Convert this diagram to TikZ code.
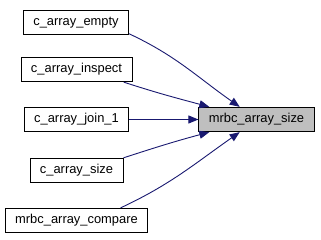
\documentclass[tikz,border=0pt]{standalone}
\usepackage{fontspec}
\setmainfont{Liberation Sans}
\usetikzlibrary{arrows.meta}

\definecolor{midnightblue}{RGB}{25,25,112}
\definecolor{nodegray}{RGB}{191,191,191}

\begin{document}
\begin{tikzpicture}[x=1pt,y=1pt,
    fn/.style={draw=black,fill=white,line width=0.8pt,minimum height=24.5pt,
      inner xsep=10pt,font=\fontsize{12.9}{15}\selectfont},
    call/.style={draw=midnightblue,line width=0.9pt,
      -{Triangle[length=10pt,width=8pt]}}]
    \useasboundingbox (0,0) rectangle (321,240);
    % the callers, one under the other
    \node[fn] (empty)   at (76,217.5)  {c\_array\_empty};
    \node[fn] (inspect) at (76.5,170.5) {c\_array\_inspect};
    \node[fn] (join)    at (76.5,120.5) {c\_array\_join\_1};
    \node[fn] (size)    at (76.5,69.5)  {c\_array\_size};
    \node[fn] (compare) at (76.5,19.5)  {mrbc\_array\_compare};
    % the called function
    \node[fn,fill=nodegray] (arraysize) at (256.5,120.5) {mrbc\_array\_size};
    \draw[call] (empty.-12) to[out=-25,in=145] (arraysize.143);
    \draw[call] (inspect.-15) to[out=-18,in=165] (arraysize.165);
    \draw[call] (join) -- (arraysize);
    \draw[call] (size.north east) to[out=18,in=-165] (arraysize.-165);
    \draw[call] (compare.16) to[out=25,in=-145] (arraysize.-143);
\end{tikzpicture}
\end{document}
